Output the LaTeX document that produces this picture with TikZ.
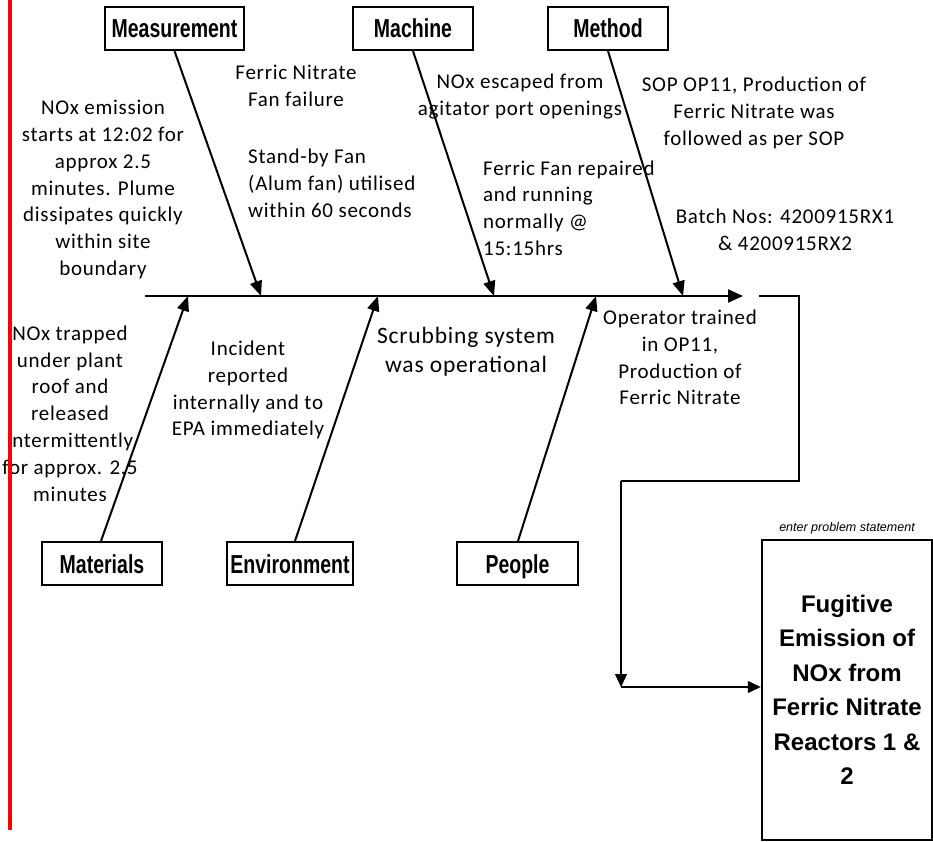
\documentclass[tikz,border=0pt]{standalone}
\usepackage{fontspec}
\setmainfont[LetterSpace=3.5]{Carlito}
\newfontfamily\labfont[FakeStretch=0.75]{Liberation Sans}
\newfontfamily\arialfont{Liberation Sans}
\usetikzlibrary{arrows.meta}
\begin{document}
\begin{tikzpicture}[x=1pt,y=-1pt,
  lab/.style={draw, line width=2pt, minimum height=43pt, inner sep=0pt, text height=19pt, text depth=0pt, font=\labfont\bfseries\fontsize{26}{30}\selectfont},
  txt/.style={align=center, inner sep=0pt, font=\fontsize{21}{26.8}\selectfont},
  ltxt/.style={align=left, inner sep=0pt, anchor=west, font=\fontsize{21}{26.8}\selectfont},
  bone/.style={line width=2pt, -{Triangle[length=15pt,width=12pt]}},
  spine/.style={line width=2pt, -{Triangle[length=15pt,width=13pt]}},
  conn/.style={line width=1.3pt, -{Triangle[length=13pt,width=12pt]}},
  thinline/.style={line width=1.3pt},
]
\useasboundingbox[fill=white] (0,0) rectangle (933,842);

% category boxes
\node[lab, minimum width=139pt] (meas) at (174.5,28.5) {Measurement};
\node[lab, minimum width=120pt] (mach) at (413,28.5) {Machine};
\node[lab, minimum width=120pt] (meth) at (608,28.5) {Method};
\node[lab, minimum width=120pt] (mat) at (102,563.5) {Materials};
\node[lab, minimum width=126pt] (env) at (290,563.5) {Environment};
\node[lab, minimum width=121pt] (peop) at (517.5,563.5) {People};

% spine coordinates
\coordinate (sL) at (145,296);
\coordinate (sR) at (743,296);
\coordinate (m1) at (261,296);
\coordinate (m2) at (494,296);
\coordinate (m3) at (683,296);
\coordinate (b1) at (188,296);
\coordinate (b2) at (378,296);
\coordinate (b3) at (596,296);

% problem box
\node[draw, line width=2.5pt, minimum width=170pt, minimum height=300pt, inner sep=0pt,
      align=center, font=\arialfont\bfseries\fontsize{24}{34.5}\selectfont] (prob) at (847,690)
  {Fugitive\\Emission of\\NOx from\\Ferric Nitrate\\Reactors 1 \&\\2};
\node[anchor=south, inner sep=0pt, font=\arialfont\itshape\fontsize{12.5}{14}\selectfont] (ps)
  at ([yshift=4pt]prob.north) {enter problem statement};

% connectors
\draw[spine] (sL) -- (sR);
\draw[bone] (meas.south) -- (m1);
\draw[bone] (mach.south) -- (m2);
\draw[bone] (meth.south) -- (m3);
\draw[bone] ([xshift=-1pt]mat.north) -- (b1);
\draw[bone] ([xshift=5pt]env.north) -- (b2);
\draw[bone] ([xshift=0.5pt]peop.north) -- (b3);

\coordinate (c1) at (759,296);
\coordinate (c2) at (799,296);
\coordinate (c3) at (621,481);
\coordinate (c4) at (621,687);
\draw[thinline] (c1) -- (c2) |- (c3);
\draw[conn] (c3) -- (c4);
\draw[conn] (c4) -- (prob.west |- c4);

% cause texts
\node[txt] (t1) at (103,189.5) {NOx emission\\starts at 12:02 for\\approx 2.5\\minutes. Plume\\dissipates quickly\\within site\\boundary};
\node[txt] (t2) at (296,86) {Ferric Nitrate\\Fan failure};
\node[ltxt] (t3) at (248,183.5) {Stand-by Fan\\(Alum fan) utilised\\within 60 seconds};
\node[txt] (t4) at (520,96.5) {NOx escaped from\\agitator port openings};
\node[ltxt] (t5) at (483,208) {Ferric Fan repaired\\and running\\normally @\\15:15hrs};
\node[txt] (t6) at (754,113) {SOP OP11, Production of\\Ferric Nitrate was\\followed as per SOP};
\node[txt] (t7) at (785,230) {Batch Nos: 4200915RX1\\\& 4200915RX2};
\node[txt] (t8) at (70,413.5) {NOx trapped\\under plant\\roof and\\released\\intermittently\\for approx. 2.5\\minutes};
\node[txt] (t9) at (248,390) {Incident\\reported\\internally and to\\EPA immediately};
\node[txt, font=\fontsize{23.5}{29}\selectfont] (t10) at (466,351.5) {Scrubbing system\\was operational};
\node[txt] (t11) at (680,357.5) {Operator trained\\in OP11,\\Production of\\Ferric Nitrate};

% red margin line
\draw[red, line width=4pt] (10,0) -- (10,830);
\end{tikzpicture}
\end{document}
